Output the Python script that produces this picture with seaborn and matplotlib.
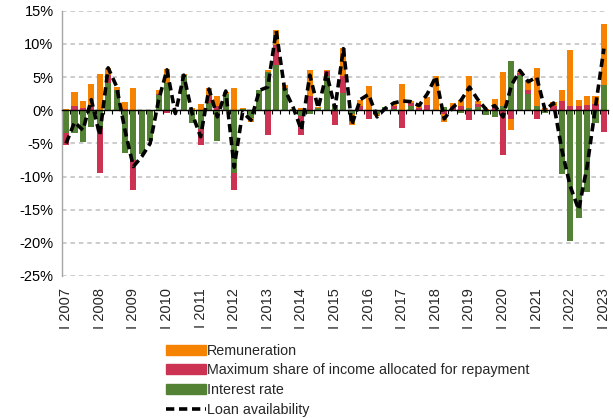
import numpy as np
import pandas as pd
import matplotlib
matplotlib.use('Agg')
import matplotlib.pyplot as plt
import seaborn as sns
from matplotlib.patches import Patch
from matplotlib.lines import Line2D

# Quarterly data, I 2007 .. I 2023 (contributions in percentage points)
quarters = [f'{y} Q{q}' for y in range(2007, 2024) for q in range(1, 5)][:65]
year_labels = [f'I {y}' for y in range(2007, 2024)]

remuneration = [0.2, 2.0, 1.0, 3.5, 5.4, 1.1, 0.5, 1.1, 3.4, 0.0,
                0.0, 0.5, 2.2, 0.1, 0.1, 0.4, 0.9, 1.3, 1.5, 0.3,
                3.3, 0.1, -0.5, 0.0, 0.35, 2.2, 0.35, 0.0, 0.35, 3.8,
                0.2, 0.2, 0.0, 4.2, -1.8, 1.0, 3.7, -0.3, 0.0, 0.3,
                3.9, 0.3, 0.5, 1.2, 5.2, -1.2, 0.6, 1.0, 4.85, 0.35,
                0.2, 1.2, 5.1, -1.7, 0.3, 1.3, 5.7, 0.3, 0.6, 1.7,
                8.5, 1.0, 1.25, 1.2, 9.2]
max_share = [-1.7, 0.7, 0.4, 0.5, -6.7, 1.2, 0.0, 0.2, -4.5, 0.0,
             0.0, 0.2, -0.4, 0.0, 0.0, 0.0, -2.4, 1.0, 0.7, 0.0,
             -2.6, 0.0, 0.0, 0.0, -3.7, 3.0, 0.0, 0.0, -2.9, 2.2,
             0.0, 0.7, -2.2, 2.6, 0.0, 0.6, -1.3, 0.0, 0.0, 0.4,
             -2.7, 0.4, 0.3, 0.85, 0.0, -0.6, 0.5, 0.6, -1.5, 0.5,
             0.0, 0.5, -6.7, -1.3, 0.3, 0.7, -1.3, 0.1, 0.7, 1.4,
             0.6, 0.6, 0.85, 1.0, -3.3]
interest_rate = [-3.5, -3.5, -4.8, -2.5, -2.7, 4.1, 3.0, -6.4, -7.5, -6.6,
                 -4.7, 2.3, 4.1, -0.3, 5.3, -2.0, -2.9, 1.1, -4.6, 2.5,
                 -9.5, 0.2, -1.2, 3.0, 5.8, 6.9, 3.4, 0.2, -0.8, -0.5,
                 0.3, 5.2, 0.8, 2.6, -0.5, 0.0, 0.0, -0.5, 0.5, 0.2,
                 0.0, 0.7, 0.0, 0.0, 0.0, 0.5, 0.0, -0.4, 0.35, 0.5,
                 -0.65, -1.0, 0.6, 7.4, 5.3, 2.4, 0.7, -0.4, 0.0, -9.6,
                 -19.8, -16.3, -12.4, -2.0, 3.8]
loan_availability = [-5.0, -1.8, -3.0, 1.6, -3.8, 6.4, 3.6, -3.0, -8.5, -7.0,
                     -5.0, 1.5, 6.1, -0.5, 5.3, -0.5, -4.0, 3.2, -1.0, 2.9,
                     -8.6, -0.3, -1.5, 3.0, 3.5, 12.0, 3.2, 0.5, -3.0, 5.3,
                     0.3, 5.6, 0.3, 9.3, -2.2, 1.6, 2.4, -1.0, 0.3, 1.1,
                     1.4, 1.3, 0.7, 2.5, 5.1, -1.3, 0.4, 1.5, 3.5, 1.6,
                     0.1, 0.7, -1.0, 3.8, 6.0, 4.3, 5.0, 0.0, 1.1, -6.0,
                     -11.5, -15.0, -8.5, 0.5, 9.3]

names = ['Remuneration', 'Maximum share of income allocated for repayment',
         'Interest rate', 'Loan availability']
colors = {'Remuneration': '#F58200',
          'Maximum share of income allocated for repayment': '#CC3352',
          'Interest rate': '#548235'}

df = pd.DataFrame({'quarter': quarters,
                   names[0]: remuneration,
                   names[1]: max_share,
                   names[2]: interest_rate,
                   names[3]: loan_availability})

sns.set_theme(style='white')
plt.rcParams['font.family'] = ['Liberation Sans', 'DejaVu Sans']

# stack outward from zero: interest rate, max share, remuneration
order = [names[2], names[1], names[0]]
pos = df[order].clip(lower=0).cumsum(axis=1)
neg = df[order].clip(upper=0).cumsum(axis=1)

fig = plt.figure(figsize=(6.13, 4.18), dpi=100)
ax = fig.add_axes([0.101, 0.340, 0.891, 0.634])

# draw cumulative totals from the outermost layer inward
for name in reversed(order):
    for part in (pos, neg):
        sns.barplot(x=df['quarter'], y=part[name].values, color=colors[name],
                    saturation=1, width=0.72, linewidth=0, errorbar=None,
                    order=quarters, ax=ax)

sns.lineplot(x=np.arange(len(df)), y=df[names[3]], color='black', lw=2.6,
             ax=ax, zorder=5)
ax.lines[-1].set_dashes([2.3, 1.3])

ax.set_xlim(-0.5, len(df) - 0.5)
ax.set_ylim(-25, 15)
yt = np.arange(-25, 16, 5)
ax.set_yticks(yt)
ax.set_yticklabels([f'{v}%' for v in yt])
ax.yaxis.grid(True, color='#BFBFBF', linestyle=(0, (3, 2.5)), lw=1.1)
ax.set_axisbelow(True)
ax.tick_params(axis='y', length=0, labelsize=10.5, pad=6, colors='black')
ax.set_xlabel('')
ax.set_ylabel('')

for s in ['top', 'right']:
    ax.spines[s].set_visible(False)
ax.spines['left'].set_color('#A6A6A6')
ax.spines['left'].set_linewidth(1)
ax.spines['bottom'].set_position(('data', 0))
ax.spines['bottom'].set_color('black')
ax.spines['bottom'].set_linewidth(1)
ax.spines['bottom'].set_zorder(4)

# small quarter ticks on the zero line
ax.set_xticks(np.arange(-0.5, len(df), 1))
ax.set_xticklabels([])
ax.tick_params(axis='x', length=3, width=0.8, color='black', direction='out', bottom=True)

# year labels at the bottom of the plot area
secax = ax.secondary_xaxis('bottom')
secax.set_xticks(np.arange(0, len(df), 4), labels=year_labels)
secax.tick_params(length=0, pad=9, labelrotation=90, labelsize=10.5)
secax.spines['bottom'].set_visible(False)

handles = [Patch(color=colors[names[0]]), Patch(color=colors[names[1]]),
           Patch(color=colors[names[2]]),
           Line2D([0], [0], color='black', lw=2.6, dashes=[2.3, 1.3])]
fig.legend(handles, names, loc='upper left', bbox_to_anchor=(0.27, 0.178),
           frameon=False, fontsize=10.3, handlelength=2.85, handleheight=0.7,
           handletextpad=0.05, labelspacing=0.4, borderaxespad=0, borderpad=0)

fig.savefig('out.png', dpi=100)
